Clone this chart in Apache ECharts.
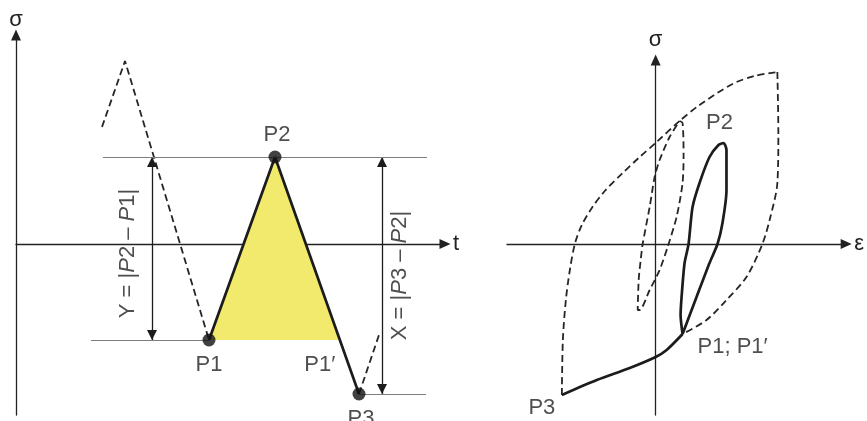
<!DOCTYPE html>
<html>
<head>
<meta charset="utf-8">
<script src="https://cdn.jsdelivr.net/npm/echarts@6/dist/echarts.min.js"></script>
<style>
  html, body { margin: 0; padding: 0; background: #fff; }
  #chart { width: 867px; height: 421px; }
</style>
</head>
<body>
<div id="chart"></div>
<script>
// Rainflow cycle: stress–time history (left) and the matching stress–strain response (right)

// ---------- Left panel: σ(t) ----------
const leadIn = [[8.6, 11.7], [10.9, 18.3], [19.3, -9.6]];   // dashed history before P1
const cycle = [[19.3, -9.6], [25.9, 8.7], [34.3, -15.0]];   // P1 -> P2 -> P3
const tail = [[34.3, -15.0], [36.4, -8.8]];                  // dashed history after P3
const turningNames = ['P1', 'P2', 'P3'];
// horizontal guides at the turning-point levels: [level, tFrom, tTo]
const guides = [[8.7, 8.7, 41.1], [-9.6, 7.5, 19.3], [-15.0, 34.3, 41.0]];
// range arrows: [t, σFrom, σTo]
const rangeY = [13.6, 8.7, -9.6];
const rangeX = [36.6, 8.7, -15.0];

// ---------- Right panel: σ(ε) ----------
const outerUp = [[-9.4, -15.1], [-9.3, -9.6], [-9.0, -5.6], [-8.6, -2.6], [-8.1, 0], [-7.4, 1.9],
  [-6.4, 3.6], [-5.1, 5.3], [-3.3, 7.1], [-1.6, 8.7], [0.1, 10.2], [2.4, 12.3], [4.4, 13.9],
  [7.7, 16.0], [9.9, 16.8], [12.2, 17.2]];
const outerDown = [[12.2, 17.2], [12.3, 11.1], [12.2, 6.1], [11.5, 2.7], [10.7, 0], [9.1, -3.3],
  [7.1, -5.6], [5.1, -7.6], [2.7, -9.0]];
const innerLoop = [[2.4, 12.3], [2.7, 12.1], [2.8, 8.7], [2.7, 6.1], [2.1, 2.7], [1.2, -0.3],
  [0.4, -2.6], [-0.6, -4.6], [-1.6, -6.6], [-1.8, -6.6], [-1.7, -3.6], [-1.5, -1.6], [-1.3, 0],
  [-0.6, 3.7], [-0.1, 6.7], [0.4, 8.4], [1.4, 10.7], [2.4, 12.3]];
const loopP1P2 = [[2.7, -9.0], [2.5, -7.1], [2.6, -5.3], [2.9, -1.9], [3.3, 0], [3.7, 3.7],
  [4.4, 6.1], [5.4, 8.7], [6.3, 9.9], [6.8, 10.1], [7.1, 9.4], [7.1, 5.4], [6.7, 2.1], [6.2, 0],
  [5.4, -1.9], [4.1, -5.3], [2.7, -9.0]];
const unloadToP3 = [[2.7, -9.0], [1.1, -10.6], [0, -11.3], [-2.6, -12.4], [-5.9, -13.6], [-9.4, -15.1]];
const loopLabels = ['P2', 'P1; P1\u2032', 'P3'];

// P1' : where the P2 -> P3 branch returns to the level of P1
const p1 = cycle[0], p2 = cycle[1], p3 = cycle[2];
const p1prime = [p2[0] + (p2[1] - p1[1]) / (p2[1] - p3[1]) * (p3[0] - p2[0]), p1[1]];
const closedHalf = [p1, p2, p1prime];

const FONT = 'Liberation Sans, Arial, Helvetica, sans-serif';
const INK = '#1c1c1c';
const textStyle = { fontFamily: FONT, fontSize: 22, color: '#222' };

function axisPair(gridIndex, xr, yr, xName, yName) {
  const line = {
    show: true, onZero: true,
    symbol: ['none', 'triangle'], symbolSize: [10, 11],
    lineStyle: { color: '#222', width: 1.3 }
  };
  return {
    x: {
      type: 'value', gridIndex, min: xr[0], max: xr[1],
      axisLine: line, axisTick: { show: false }, axisLabel: { show: false }, splitLine: { show: false },
      name: xName, nameLocation: 'end', nameGap: 8,
      nameTextStyle: Object.assign({}, textStyle, { verticalAlign: 'middle' })
    },
    y: {
      type: 'value', gridIndex, min: yr[0], max: yr[1],
      axisLine: line, axisTick: { show: false }, axisLabel: { show: false }, splitLine: { show: false },
      name: yName, nameLocation: 'end', nameGap: gridIndex === 0 ? 4 : 9,
      nameTextStyle: Object.assign({}, textStyle, { align: 'center' })
    }
  };
}

const left = axisPair(0, [0, 42.9], [-17.1, 20.9], 't', 'σ');
const right = axisPair(1, [-14.9, 19.1], [-17.1, 18.4], 'ε', 'σ');

const dashed = { color: '#262626', width: 1.8, type: [7, 4] };
const solid = { color: INK, width: 2.7 };

function lineSeries(gi, data, style, extra) {
  return Object.assign({
    type: 'line', xAxisIndex: gi, yAxisIndex: gi, data,
    showSymbol: false, symbol: 'none', lineStyle: style, silent: true, z: 3
  }, extra || {});
}

const rich = {
  n: { fontFamily: FONT, fontSize: 22, color: '#222' },
  i: { fontFamily: FONT, fontSize: 22, color: '#222', fontStyle: 'italic' }
};

// double-headed arrows; heads are pulled back so their tips sit on the end levels
const arrowLine = {
  silent: true,
  symbol: ['triangle', 'triangle'],
  symbolSize: 10,
  symbolOffset: [[0, 5], [0, 5]],
  label: { show: false },
  lineStyle: { color: INK, width: 1.3, type: 'solid' },
  itemStyle: { color: INK },
  data: [rangeY, rangeX].map(r => [{ coord: [r[0], r[1]] }, { coord: [r[0], r[2]] }])
};

const guideLine = {
  silent: true,
  symbol: 'none',
  label: { show: false },
  lineStyle: { color: '#7d7d7d', width: 1, type: 'solid' },
  data: guides.map(g => [{ coord: [g[1], g[0]] }, { coord: [g[2], g[0]] }])
};

const option = {
  animation: false,
  backgroundColor: '#ffffff',
  grid: [
    { left: 16, top: 35, width: 429, height: 380 },
    { left: 507, top: 60, width: 340, height: 355 }
  ],
  xAxis: [left.x, right.x],
  yAxis: [left.y, right.y],
  series: [
    // closed half-cycle P1 - P2 - P1'
    {
      type: 'custom', xAxisIndex: 0, yAxisIndex: 0, silent: true, z: 1,
      data: [closedHalf[0]],
      renderItem: (params, api) => ({
        type: 'polygon',
        shape: { points: closedHalf.map(p => api.coord(p)) },
        style: { fill: '#f2ea6c' }
      })
    },
    lineSeries(0, leadIn, dashed, { markLine: arrowLine }),
    lineSeries(0, tail, dashed, { markLine: guideLine }),
    lineSeries(0, cycle, solid),
    // turning points with names
    {
      type: 'scatter', xAxisIndex: 0, yAxisIndex: 0, silent: true, z: 5,
      symbolSize: 13, itemStyle: { color: '#111' },
      data: cycle.map((p, i) => ({
        value: p, name: turningNames[i],
        label: {
          show: true, formatter: '{b}', position: 'inside',
          offset: i === 1 ? [2, -22] : (i === 0 ? [0, 25] : [2, 25])
        }
      })),
      label: Object.assign({}, textStyle)
    },
    {
      type: 'scatter', xAxisIndex: 0, yAxisIndex: 0, silent: true, z: 5,
      symbolSize: 0,
      data: [{ value: p1prime, name: 'P1\u2032' }],
      label: Object.assign({ show: true, formatter: '{b}', position: 'inside', offset: [-20, 25] }, textStyle)
    },
    // range annotations (rotated; offsets are in the rotated frame)
    {
      type: 'scatter', xAxisIndex: 0, yAxisIndex: 0, silent: true, z: 5,
      symbolSize: 0,
      data: [
        { value: [rangeY[0], (rangeY[1] + rangeY[2]) / 2],
          label: { offset: [-5, -24], formatter: '{n|Y = |}{i|P}{n|2 \u2013 }{i|P}{n|1|}' } },
        { value: [rangeX[0], (rangeX[1] + rangeX[2]) / 2],
          label: { offset: [0, 18], formatter: '{n|X = |}{i|P}{n|3 \u2013 }{i|P}{n|2|}' } }
      ],
      label: { show: true, position: 'inside', rotate: 90, rich }
    },

    // right panel
    lineSeries(1, outerUp, dashed, { smooth: 0.3 }),
    lineSeries(1, outerDown, dashed, { smooth: 0.3 }),
    lineSeries(1, innerLoop, dashed, { smooth: 0.25 }),
    lineSeries(1, loopP1P2, solid, { smooth: 0.25 }),
    lineSeries(1, unloadToP3, solid, { smooth: 0.3 }),
    {
      type: 'scatter', xAxisIndex: 1, yAxisIndex: 1, silent: true, z: 5,
      symbolSize: 0,
      data: [
        { value: loopP1P2[9], name: loopLabels[0], label: { offset: [-4, -20] } },
        { value: loopP1P2[0], name: loopLabels[1], label: { offset: [50, 13] } },
        { value: unloadToP3[unloadToP3.length - 1], name: loopLabels[2], label: { offset: [-20, 13] } }
      ],
      label: Object.assign({ show: true, formatter: '{b}', position: 'inside' }, textStyle)
    }
  ]
};

const chart = echarts.init(document.getElementById('chart'), null, { renderer: 'canvas' });
chart.setOption(option);
</script>
</body>
</html>
